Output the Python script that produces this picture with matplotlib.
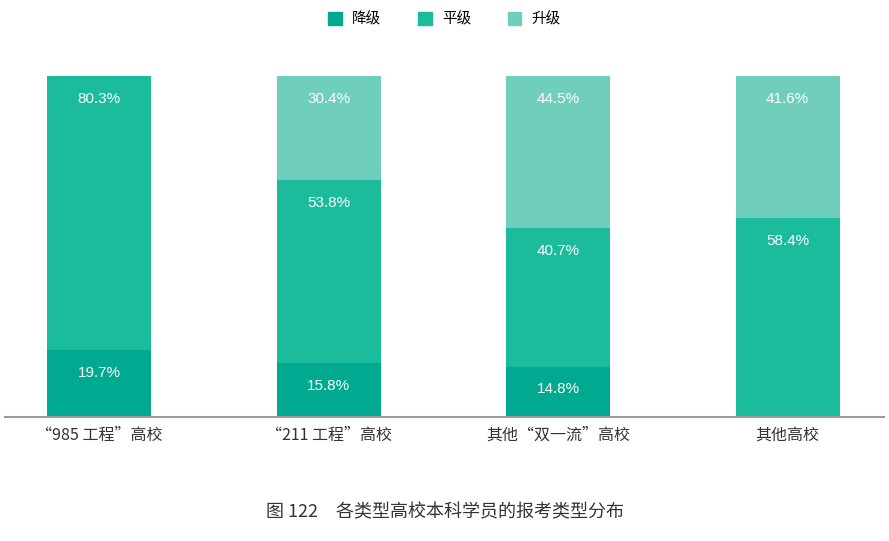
import matplotlib
matplotlib.use("Agg")
import matplotlib.pyplot as plt
from matplotlib.patches import Patch
import numpy as np

plt.rcParams['font.family'] = ['Noto Sans CJK SC', 'DejaVu Sans']

# 数据
categories = ['“985 工程”高校', '“211 工程”高校', '其他“双一流”高校', '其他高校']
series_names = ['降级', '平级', '升级']
down = [19.7, 15.8, 14.8, 0.0]
same = [80.3, 53.8, 40.7, 58.4]
up = [0.0, 30.4, 44.5, 41.6]
colors = ['#00a98f', '#1abc9c', '#6fcfbc']

fig = plt.figure(figsize=(8.89, 5.41), dpi=100)
ax = fig.add_axes([5 / 889, 124 / 541, 879 / 889, 341 / 541])

x = np.arange(len(categories))
width = 0.453
bottom = np.zeros(len(categories))
for name, vals, c in zip(series_names, [down, same, up], colors):
    vals = np.array(vals)
    ax.bar(x, vals, width, bottom=bottom, color=c, label=name)
    for xi, b, v in zip(x, bottom, vals):
        if v > 0:
            ax.annotate(f'{v:.1f}%', (xi, b + v), xytext=(0, -16.5),
                        textcoords='offset points', ha='center', va='center',
                        color='white', fontsize=11, family='Liberation Sans')
    bottom += vals

ax.set_xlim(-0.41, 3.42)
ax.set_ylim(0, 100)
ax.set_yticks([])
ax.set_xticks(x)
ax.set_xticklabels(categories, fontsize=11.5, color='#333333')
ax.tick_params(axis='x', length=0, pad=7)
for s in ['top', 'right', 'left']:
    ax.spines[s].set_visible(False)
ax.spines['bottom'].set_color('#999999')
ax.spines['bottom'].set_linewidth(1.5)

handles = [Patch(color=c, label=n) for n, c in zip(series_names, colors)]
fig.legend(handles=handles, loc='center', bbox_to_anchor=(0.5, 1 - 19 / 541),
           ncol=3, frameon=False, fontsize=10.5, handlelength=0.95, handleheight=0.95,
           columnspacing=2.5, handletextpad=0.7)

fig.text(0.5, 1 - 512 / 541, '图 122　各类型高校本科学员的报考类型分布',
         ha='center', va='center', fontsize=13, color='#333333')

fig.savefig('out.png', dpi=100)
